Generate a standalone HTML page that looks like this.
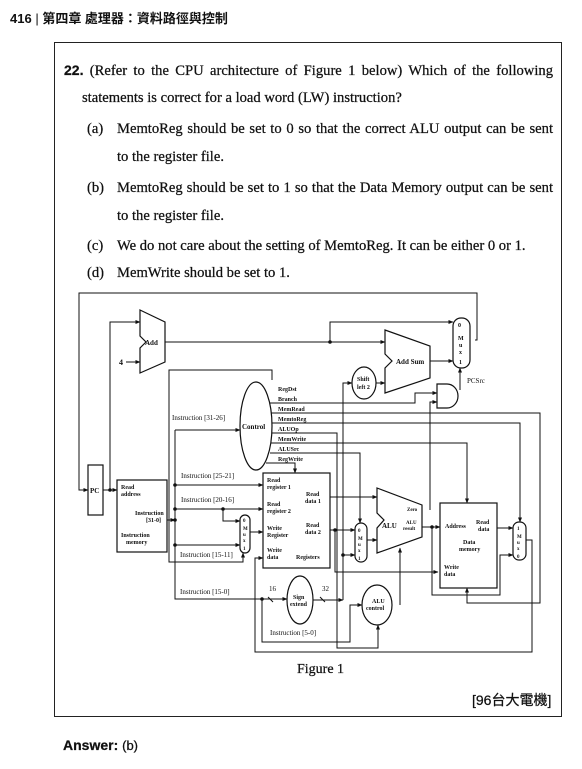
<!DOCTYPE html>
<html><head><meta charset="utf-8"><style>
body{margin:0;width:582px;height:769px;background:#fff;position:relative;overflow:hidden;font-family:"Liberation Serif",serif;color:#111}
.hd{position:absolute;left:10px;top:8px;font:bold 13px "Liberation Sans","Noto Sans CJK TC",sans-serif}
.box{position:absolute;left:54px;top:42px;width:508px;height:675px;border:1.5px solid #222;box-sizing:border-box}
.l{position:absolute;font-size:14.6px;white-space:nowrap;line-height:16px;-webkit-text-stroke:0.25px #111}
.j{text-align:justify;text-align-last:justify}
svg text{font-family:"Liberation Serif",serif}
</style></head><body>
<div class="hd">416 <span style="font-weight:normal">|</span> 第四章 處理器：資料路徑與控制</div>
<div class="box"></div>
<div class="l j" style="left:64px;top:62px;width:489px"><span style="font:bold 14px 'Liberation Sans',sans-serif">22.</span> (Refer to the CPU architecture of Figure 1 below) Which of the following</div>
<div class="l" style="left:82px;top:90px">statements is correct for a load word (LW) instruction?</div>
<div class="l" style="left:87px;top:121px">(a)</div>
<div class="l j" style="left:117px;top:121px;width:436px">MemtoReg should be set to 0 so that the correct ALU output can be sent</div>
<div class="l" style="left:117px;top:149px">to the register file.</div>
<div class="l" style="left:87px;top:180px">(b)</div>
<div class="l j" style="left:117px;top:180px;width:436px">MemtoReg should be set to 1 so that the Data Memory output can be sent</div>
<div class="l" style="left:117px;top:208px">to the register file.</div>
<div class="l" style="left:87px;top:238px">(c)</div>
<div class="l" style="left:117px;top:238px">We do not care about the setting of MemtoReg. It can be either 0 or 1.</div>
<div class="l" style="left:87px;top:265px">(d)</div>
<div class="l" style="left:117px;top:265px">MemWrite should be set to 1.</div>
<div class="l" style="left:297px;top:662px;font-size:14px">Figure 1</div>
<div class="l" style="left:472px;top:690px;font:14px 'Liberation Sans','Noto Sans CJK TC',sans-serif">[96台大電機]</div>
<div class="l" style="left:63px;top:737px;font:bold 14px 'Liberation Sans',sans-serif">Answer: <span style="font-weight:normal;font-size:13px">(b)</span></div>

<svg width="582" height="769" style="position:absolute;left:0;top:0" fill="none" stroke="#111" stroke-width="1">
<defs><marker id="a" markerWidth="5" markerHeight="5" refX="4.5" refY="2.5" orient="auto"><path d="M0,0.5 L5,2.5 L0,4.5z" fill="#111" stroke="none"/></marker></defs>
<g marker-end="url(#a)">
<path d="M475,340 H477 V293 H79 V490 H88"/>
<path d="M103,490 H117"/>
<path d="M110,490 V322 H140"/>
<path d="M126,362 H140"/>
<path d="M165,342 H330 V322 H453"/>
<path d="M330,342 H385"/>
<path d="M430,361 H453"/>
<path d="M460,390 V368"/>
<path d="M375,383 H385"/>
<path d="M343,600 V383 H352"/>
<path d="M266,403 H415 V393 H437"/>
<path d="M430,510 V402 H437"/>
<path d="M175,430 H240"/>
<path d="M272,380 V370 H169 V562 H243 V553"/>
<path d="M167,520 H175"/>
<path d="M175,485 H263"/>
<path d="M175,509 H263"/>
<path d="M223,509 V521 H240"/>
<path d="M175,545 H240"/>
<path d="M250,532 H263"/>
<path d="M175,430 V599 H287"/>
<path d="M330,497 H377"/>
<path d="M330,530 H355"/>
<path d="M335,530 V572 H438"/>
<path d="M343,555 H355"/>
<path d="M367,540 H377"/>
<path d="M422,527 H440"/>
<path d="M432,527 V595 H500 V555 H513"/>
<path d="M497,528 H513"/>
<path d="M526,540 H532 V652 H255 V558 H263"/>
<path d="M262,599 V642 H350 V605 H362"/>
<path d="M400,605 V548"/>
<path d="M312,600 H343"/>
<path d="M268,413 H540 V603 H467 V588"/>
<path d="M270,423 H520 V522"/>
<path d="M270,433 H337 V648 H378 V625"/>
<path d="M270,443 H467 V503"/>
<path d="M270,453 H360 V523"/>
<path d="M266,463 H295 V473"/>
</g>
<g fill="#111" stroke="none">
<circle cx="110" cy="490" r="1.8"/><circle cx="330" cy="342" r="1.8"/><circle cx="175" cy="485" r="1.8"/><circle cx="175" cy="509" r="1.8"/><circle cx="175" cy="520" r="1.8"/><circle cx="175" cy="545" r="1.8"/><circle cx="223" cy="509" r="1.8"/><circle cx="335" cy="530" r="1.8"/><circle cx="343" cy="555" r="1.8"/><circle cx="432" cy="527" r="1.8"/><circle cx="262" cy="599" r="1.8"/>
</g>
<g fill="#fff" stroke-width="1.2">
<path d="M140,310 L165,322 V362 L140,373 V348 L146,342 L140,336 Z"/>
<path d="M385,330 L430,346 V378 L385,393 V368 L392,361 L385,354 Z"/>
<path d="M377,488 L422,505 V537 L377,553 V528 L384,520 L377,513 Z"/>
<rect x="453" y="318" width="17" height="50" rx="8"/>
<rect x="240" y="515" width="10" height="38" rx="5"/>
<rect x="355" y="523" width="12" height="39" rx="6"/>
<rect x="513" y="522" width="13" height="38" rx="6"/>
<ellipse cx="364" cy="383" rx="12" ry="16"/>
<path d="M437,384 H447 A11,12 0 0 1 447,408 H437 Z"/>
<ellipse cx="256" cy="426" rx="16" ry="44"/>
<rect x="88" y="465" width="15" height="50"/>
<rect x="117" y="480" width="50" height="72"/>
<rect x="263" y="473" width="67" height="95"/>
<ellipse cx="300" cy="600" rx="13" ry="24"/>
<ellipse cx="377" cy="605" rx="15" ry="20"/>
<rect x="440" y="503" width="57" height="85"/>
</g>
<path d="M268,597 l5,5 M320,597 l5,5"/>
<g fill="#111" stroke="none" font-size="7" font-weight="bold">
<text x="145" y="345">Add</text><text x="119" y="365" font-size="8">4</text>
<text x="396" y="364">Add Sum</text>
<text x="458" y="327" font-size="6">0</text><text x="458" y="340" font-size="6">M</text><text x="459" y="347" font-size="6">u</text><text x="459" y="354" font-size="6">x</text><text x="459" y="364" font-size="6">1</text>
<text x="357" y="381" font-size="6">Shift</text><text x="357" y="389" font-size="6">left 2</text>
<text x="467" y="383" font-weight="normal">PCSrc</text>
<text x="278" y="391" font-size="6" font-family="Liberation Sans">RegDst</text>
<text x="278" y="401" font-size="6" font-family="Liberation Sans">Branch</text>
<text x="278" y="411" font-size="6" font-family="Liberation Sans">MemRead</text>
<text x="278" y="421" font-size="6" font-family="Liberation Sans">MemtoReg</text>
<text x="278" y="431" font-size="6" font-family="Liberation Sans">ALUOp</text>
<text x="278" y="441" font-size="6" font-family="Liberation Sans">MemWrite</text>
<text x="278" y="451" font-size="6" font-family="Liberation Sans">ALUSrc</text>
<text x="278" y="461" font-size="6" font-family="Liberation Sans">RegWrite</text>
<text x="242" y="429">Control</text>
<text x="172" y="420" font-weight="normal">Instruction [31-26]</text>
<text x="90" y="493">PC</text>
<text x="121" y="489" font-size="6">Read</text><text x="121" y="496" font-size="6">address</text>
<text x="135" y="515" font-size="6">Instruction</text><text x="146" y="522" font-size="6">[31-0]</text>
<text x="121" y="537" font-size="6">Instruction</text><text x="126" y="544" font-size="6">memory</text>
<text x="181" y="478" font-weight="normal">Instruction [25-21]</text>
<text x="181" y="502" font-weight="normal">Instruction [20-16]</text>
<text x="180" y="557" font-weight="normal">Instruction [15-11]</text>
<text x="180" y="594" font-weight="normal">Instruction [15-0]</text>
<text x="270" y="635" font-weight="normal">Instruction [5-0]</text>
<text x="243" y="522" font-size="5">0</text><text x="243" y="530" font-size="5">M</text><text x="243" y="536" font-size="5">u</text><text x="243" y="542" font-size="5">x</text><text x="243" y="550" font-size="5">1</text>
<text x="358" y="532" font-size="5">0</text><text x="358" y="540" font-size="5">M</text><text x="358" y="546" font-size="5">u</text><text x="358" y="552" font-size="5">x</text><text x="358" y="560" font-size="5">1</text>
<text x="517" y="530" font-size="5">1</text><text x="517" y="538" font-size="5">M</text><text x="517" y="544" font-size="5">u</text><text x="517" y="550" font-size="5">x</text><text x="517" y="558" font-size="5">0</text>
<text x="267" y="482" font-size="6">Read</text><text x="267" y="489" font-size="6">register 1</text>
<text x="306" y="496" font-size="6">Read</text><text x="305" y="503" font-size="6">data 1</text>
<text x="267" y="506" font-size="6">Read</text><text x="267" y="513" font-size="6">register 2</text>
<text x="267" y="530" font-size="6">Write</text><text x="267" y="537" font-size="6">Register</text>
<text x="306" y="527" font-size="6">Read</text><text x="305" y="534" font-size="6">data 2</text>
<text x="267" y="552" font-size="6">Write</text><text x="267" y="559" font-size="6">data</text>
<text x="296" y="559" font-size="6">Registers</text>
<text x="269" y="591" font-weight="normal">16</text><text x="322" y="591" font-weight="normal">32</text>
<text x="293" y="599" font-size="6">Sign</text><text x="290" y="606" font-size="6">extend</text>
<text x="372" y="603" font-size="6">ALU</text><text x="366" y="610" font-size="6">control</text>
<text x="382" y="528">ALU</text>
<text x="407" y="511" font-size="5">Zero</text><text x="406" y="524" font-size="5">ALU</text><text x="403" y="530" font-size="5">result</text>
<text x="445" y="528" font-size="6">Address</text>
<text x="476" y="524" font-size="6">Read</text><text x="478" y="531" font-size="6">data</text>
<text x="463" y="544" font-size="6">Data</text><text x="459" y="551" font-size="6">memory</text>
<text x="444" y="569" font-size="6">Write</text><text x="444" y="576" font-size="6">data</text>
</g>
</svg>
</body></html>
